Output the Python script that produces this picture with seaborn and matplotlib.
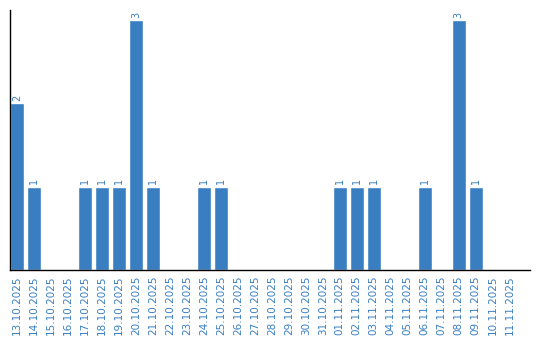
import matplotlib
matplotlib.use("Agg")
import matplotlib.pyplot as plt
import seaborn as sns
import pandas as pd

dates = ["13.10.2025", "14.10.2025", "15.10.2025", "16.10.2025", "17.10.2025",
         "18.10.2025", "19.10.2025", "20.10.2025", "21.10.2025", "22.10.2025",
         "23.10.2025", "24.10.2025", "25.10.2025", "26.10.2025", "27.10.2025",
         "28.10.2025", "29.10.2025", "30.10.2025", "31.10.2025", "01.11.2025",
         "02.11.2025", "03.11.2025", "04.11.2025", "05.11.2025", "06.11.2025",
         "07.11.2025", "08.11.2025", "09.11.2025", "10.11.2025", "11.11.2025"]
counts = [2, 1, 0, 0, 1, 1, 1, 3, 1, 0, 0, 1, 1, 0, 0, 0, 0, 0, 0, 1,
          1, 1, 0, 0, 1, 0, 3, 1, 0, 0]

color = "#3a7ec2"
sns.set_style("white")
plt.rcParams['font.family'] = ['DejaVu Sans']

df = pd.DataFrame({"date": dates, "count": counts})
fig = plt.figure(figsize=(5.4, 3.4), dpi=100)
ax = fig.add_axes([10/540, 70/340, 520/540, 260/340])
sns.barplot(data=df, x="date", y="count", color=color, saturation=1,
            width=0.82, ax=ax, order=dates)

for i, v in enumerate(counts):
    if v > 0:
        ax.text(i, v + 0.03, str(v), rotation=90, ha="center", va="bottom",
                color=color, fontsize=7)

ax.set_xlim(-0.41, 30.2)
ax.set_ylim(0, 3.12)
ax.set_xlabel("")
ax.set_ylabel("")
ax.set_yticks([])
ax.tick_params(axis="x", length=0, pad=4)
ax.set_xticks(range(len(dates)))
ax.set_xticklabels(dates, rotation=90, color=color, fontsize=7.5)
for s in ["top", "right"]:
    ax.spines[s].set_visible(False)
for s in ["left", "bottom"]:
    ax.spines[s].set_color("black")
    ax.spines[s].set_linewidth(1)

fig.savefig("out.png", dpi=100)
